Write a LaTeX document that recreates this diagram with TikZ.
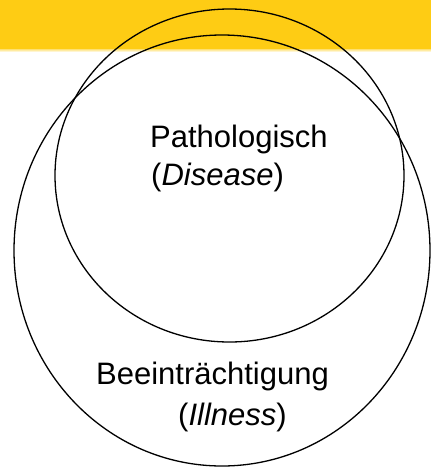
\documentclass[tikz,border=0pt]{standalone}
\usepackage{fontspec}
\setmainfont{Liberation Sans}
\definecolor{bandyellow}{RGB}{254,204,20}
\begin{document}
\begin{tikzpicture}[x=1pt,y=-1pt,
  ring/.style={draw=black,line width=1.3pt},
  lbl/.style={anchor=base west,inner sep=0pt,font=\fontsize{31}{36}\selectfont}]
\useasboundingbox (0,0) rectangle (431,467);
\fill[bandyellow] (0,0) rectangle (431,49);
\shade[top color=bandyellow!60,bottom color=white] (0,49) rectangle (431,52);
\draw[ring] (222,250.5) ellipse [x radius=208, y radius=215.5];
\draw[ring] (229.5,175.5) ellipse [x radius=174.5, y radius=166.5];
\node[lbl] (p) at (150,147) {Pathologisch};
\node[lbl] (d) at (151,185) {(\textit{Disease})};
\node[lbl] (b) at (96,384) {Beeinträchtigung};
\node[lbl] (i) at (178,425) {(\textit{Illness})};
\end{tikzpicture}
\end{document}
